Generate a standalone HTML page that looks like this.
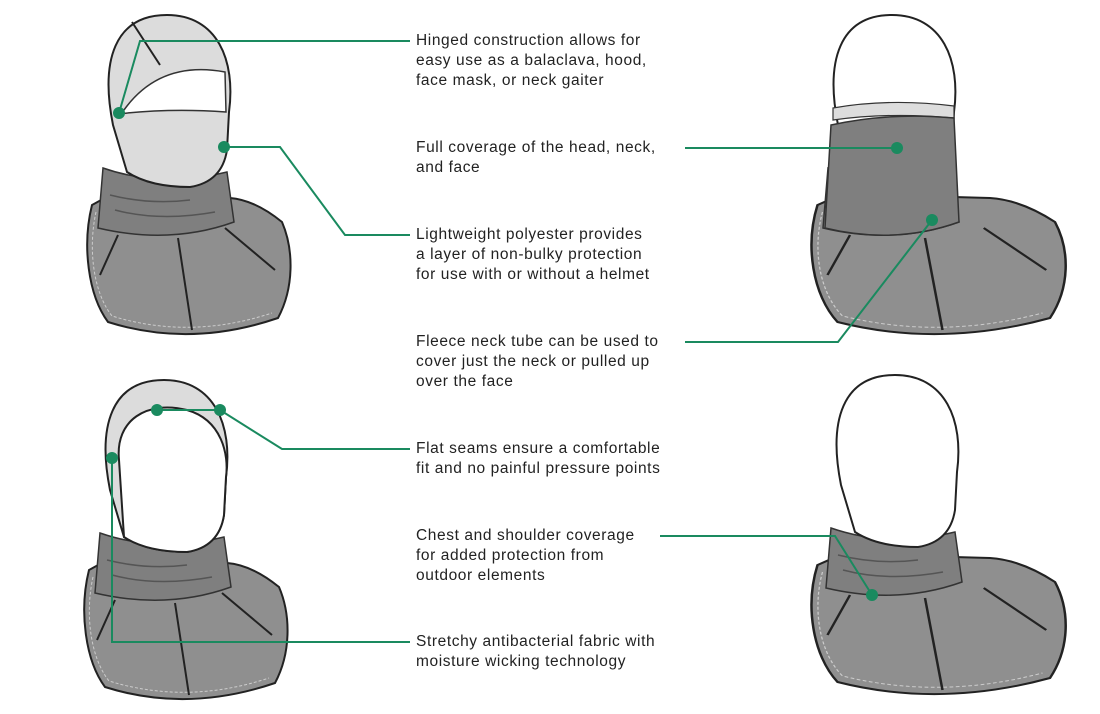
<!DOCTYPE html>
<html><head><meta charset="utf-8"><style>
html,body{margin:0;padding:0;background:#fff;width:1100px;height:714px;overflow:hidden}
svg{position:absolute;left:0;top:0}
.t{position:absolute;left:416px;font:15.5px/20px "Liberation Sans",sans-serif;color:#222;letter-spacing:0.6px;white-space:nowrap}
</style></head><body>
<svg width="1100" height="714" viewBox="0 0 1100 714">
<defs>
<g id="cape">
<path d="M92,205 C82,245 88,295 108,322 Q190,348 278,318 C294,288 294,250 282,222 Q255,200 230,198 L112,194 Z" fill="#8f8f8f" stroke="#222" stroke-width="2"/>
<path d="M96,212 C88,248 93,292 112,316 Q190,340 272,313" fill="none" stroke="#ccc" stroke-width="1" stroke-dasharray="3 2"/>
<path d="M118,235 L100,275 M178,238 L192,330 M225,228 L275,270" stroke="#222" stroke-width="2" fill="none"/>
</g>
<g id="tube">
<path d="M103,168 Q160,188 227,172 L234,222 Q170,245 98,228 Z" fill="#7f7f7f" stroke="#333" stroke-width="1.5"/>
<path d="M110,195 Q150,205 190,200 M115,210 Q160,222 215,212" stroke="#555" stroke-width="1.5" fill="none"/>
</g>
<path id="head" d="M113,125 C100,60 115,15 167,15 C217,15 236,60 229,112 L227,150 Q222,182 190,187 Q150,187 127,172 Z" stroke="#222" stroke-width="2"/>
</defs>
<use href="#cape"/><use href="#tube"/>
<use href="#head" fill="#dcdcdc"/>
<path d="M124,110 Q160,60 225,72 L226,112 Q170,108 118,114 Z" fill="#fff" stroke="#333" stroke-width="1.5"/>
<path d="M132,22 L160,65" stroke="#222" stroke-width="2"/>
<g transform="translate(815,0) scale(1.25,1) translate(-90,0)"><use href="#cape"/></g>
<g transform="translate(725,0)"><use href="#tube"/><use href="#head" fill="#fff"/>
<path d="M108,108 Q165,98 229,106 L229,118 Q165,112 108,120 Z" fill="#ddd" stroke="#333" stroke-width="1.2"/>
<path d="M106,125 Q165,112 229,118 L234,222 Q170,245 100,228 Z" fill="#7f7f7f" stroke="#333" stroke-width="1.5"/></g>
<g transform="translate(-3,365)"><use href="#cape"/><use href="#tube"/><use href="#head" fill="#dcdcdc"/>
<path d="M122,95 C118,55 150,35 190,45 C225,55 232,90 229,112 L227,150 Q222,182 190,187 Q150,187 127,172 Z" fill="#fff" stroke="#222" stroke-width="2"/></g>
<g transform="translate(815,360) scale(1.25,1) translate(-90,0)"><use href="#cape"/></g>
<g transform="translate(728,360)"><use href="#tube"/><use href="#head" fill="#fff"/></g>
<g stroke="#1a8a5f" stroke-width="2" fill="none">
<path d="M119,113 L140,41 L410,41"/>
<path d="M224,147 L280,147 L345,235 L410,235"/>
<path d="M685,148 L897,148"/>
<path d="M685,342 L838,342 L932,220"/>
<path d="M157,410 L220,410 L282,449 L410,449"/>
<path d="M660,536 L835,536 L872,595"/>
<path d="M112,458 L112,642 L410,642"/>
</g>
<g fill="#1a8a5f">
<circle cx="119" cy="113" r="6"/><circle cx="224" cy="147" r="6"/><circle cx="897" cy="148" r="6"/>
<circle cx="932" cy="220" r="6"/><circle cx="157" cy="410" r="6"/><circle cx="220" cy="410" r="6"/>
<circle cx="872" cy="595" r="6"/><circle cx="112" cy="458" r="6"/>
</g>
</svg>
<div class="t" style="top:31px">Hinged construction allows for<br>easy use as a balaclava, hood,<br>face mask, or neck gaiter</div>
<div class="t" style="top:138px">Full coverage of the head, neck,<br>and face</div>
<div class="t" style="top:225px">Lightweight polyester provides<br>a layer of non-bulky protection<br>for use with or without a helmet</div>
<div class="t" style="top:332px">Fleece neck tube can be used to<br>cover just the neck or pulled up<br>over the face</div>
<div class="t" style="top:439px">Flat seams ensure a comfortable<br>fit and no painful pressure points</div>
<div class="t" style="top:526px">Chest and shoulder coverage<br>for added protection from<br>outdoor elements</div>
<div class="t" style="top:632px">Stretchy antibacterial fabric with<br>moisture wicking technology</div>
</body></html>
